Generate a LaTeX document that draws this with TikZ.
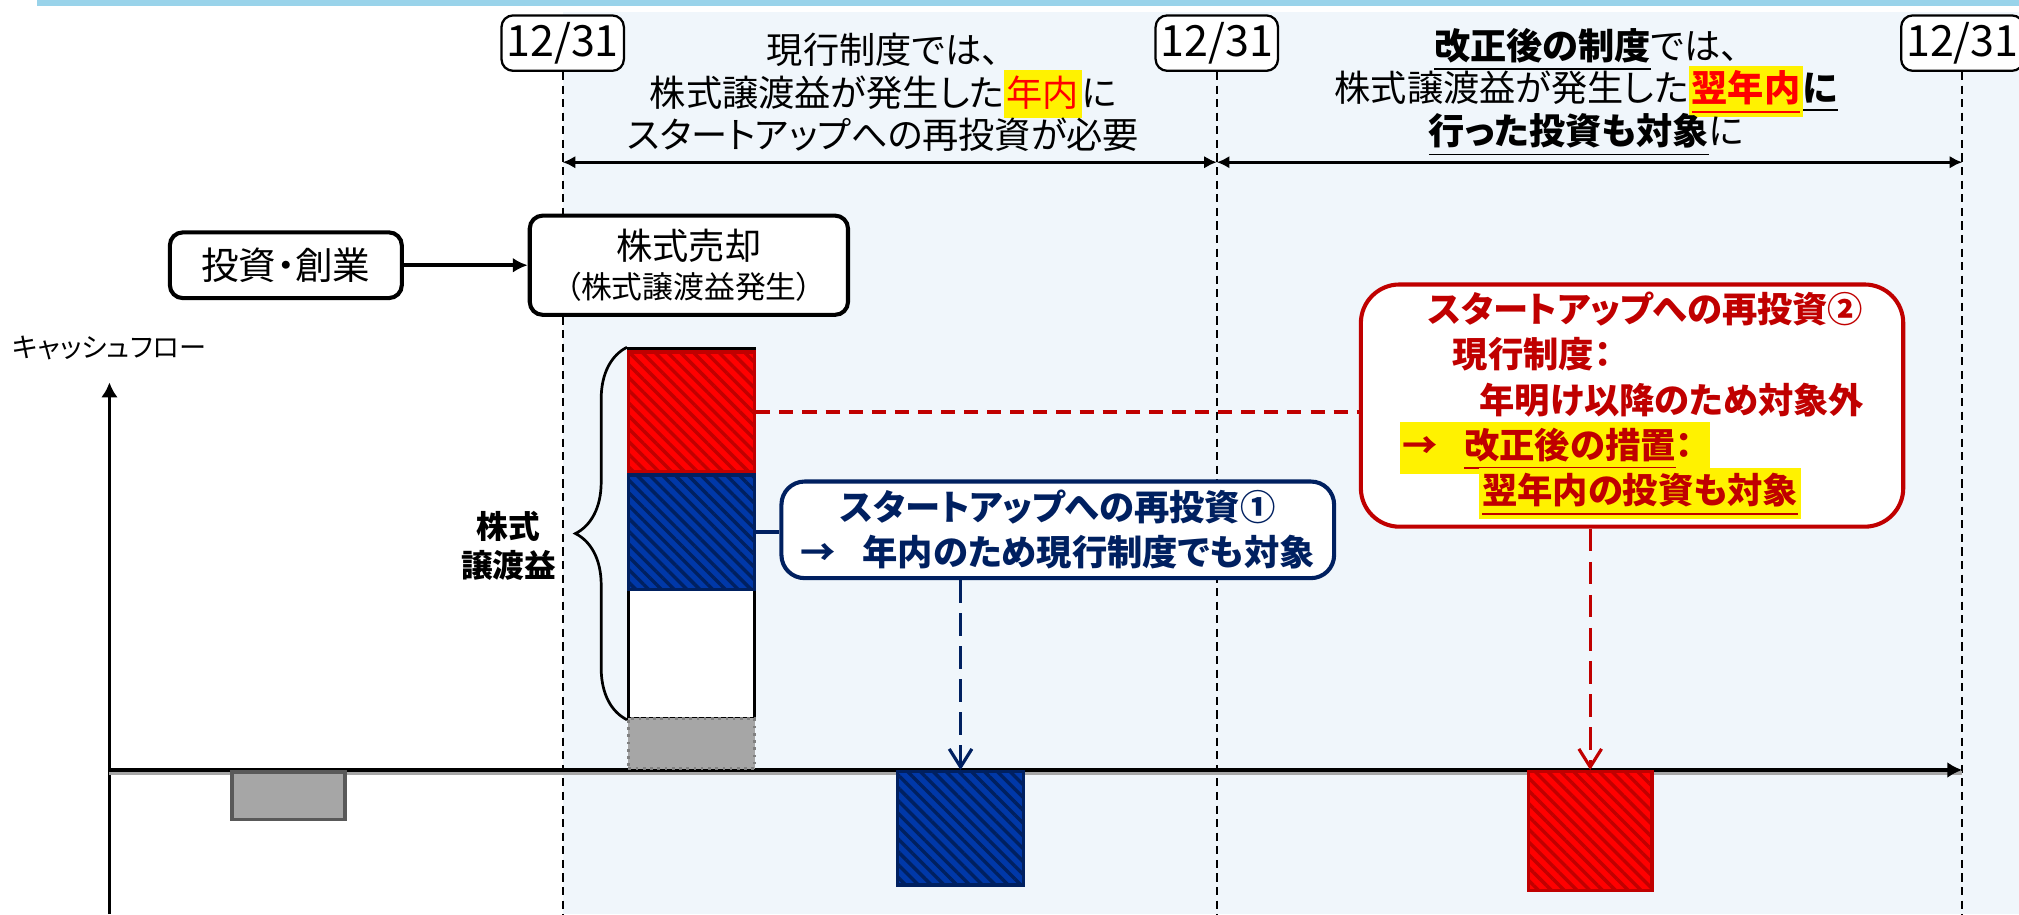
\documentclass[tikz,border=0pt]{standalone}
\usepackage{fontspec}
\setmainfont{Noto Sans CJK JP}[RawFeature=+palt]
\usepackage{tikz}
\usetikzlibrary{arrows.meta}
\usetikzlibrary{patterns.meta}
\usetikzlibrary{decorations.pathreplacing}

\definecolor{navy}{HTML}{002060}
\definecolor{darkred}{HTML}{C00000}
\definecolor{hatchblue}{HTML}{0038A8}
\definecolor{bgblue}{HTML}{F0F6FB}
\definecolor{topbar}{HTML}{99D3EA}
\definecolor{barfill}{HTML}{A6A6A6}
\definecolor{bardark}{HTML}{595959}

\newcommand{\hl}[1]{{\setlength{\fboxsep}{0.6pt}\colorbox{yellow}{\rule[-2pt]{0pt}{9.4pt}#1}}}
\lineskiplimit=-\maxdimen

\begin{document}
\begin{tikzpicture}[x=0.01cm, y=-0.01cm,
	datebox/.style={draw, line width=0.5pt, rounded corners=0.09cm, fill=white, minimum width=0.95cm, minimum height=0.43cm, inner sep=0pt, font=\fontsize{9.5}{11}\selectfont},
	dateline/.style={line width=0.45pt, dash pattern=on 1.8pt off 1.2pt},
	yeararrow/.style={line width=0.7pt, {Latex[length=2.8pt,width=2.8pt]}-{Latex[length=2.8pt,width=2.8pt]}},
	headtext/.style={align=center, inner sep=0pt, font=\fontsize{8}{9.4}\selectfont},
	evtbox/.style={draw, line width=0.9pt, rounded corners=0.1cm, fill=white, inner sep=0pt, align=center},
	bar/.style={inner sep=0pt, minimum width=0.98cm},
	redbar/.style={bar, draw=darkred, line width=0.7pt, preaction={fill=red}, pattern={Lines[angle=-45,distance=2pt,line width=0.75pt]}, pattern color=darkred},
	bluebar/.style={bar, draw=navy, line width=0.7pt, preaction={fill=hatchblue}, pattern={Lines[angle=-45,distance=2pt,line width=0.75pt]}, pattern color=navy},
	graybar/.style={bar, fill=barfill},
	bluenote/.style={draw=navy, line width=0.9pt, rounded corners=0.18cm, fill=white, text=navy, font=\bfseries\fontsize{7.8}{10}\selectfont, align=center, inner sep=0pt, minimum width=4.29cm, minimum height=0.75cm},
	rednote/.style={draw=darkred, line width=0.9pt, rounded corners=0.3cm, fill=white, text=darkred, font=\bfseries\fontsize{7.8}{10}\selectfont, align=left, inner sep=0pt, minimum width=4.21cm, minimum height=1.88cm},
	]
	\useasboundingbox (0,0) rectangle (1568,710);
	\fill[topbar] (29,0) rectangle (1568,5);
	\fill[bgblue] (437,9) rectangle (1568,710);
	
	\coordinate (bottom) at (0,710);
	\coordinate (arrowrow) at (0,126);
	\node[datebox] (date1) at (437,33.5) {12/31};
	\node[datebox] (date2) at (945,33.5) {12/31};
	\node[datebox] (date3) at (1524,33.5) {12/31};
	\draw[dateline] (date1.south) -- (date1.south |- bottom);
	\draw[dateline] (date2.south) -- (date2.south |- bottom);
	\draw[dateline] (date3.south) -- (date3.south |- bottom);
	\draw[yeararrow] (date1 |- arrowrow) -- (date2 |- arrowrow);
	\draw[yeararrow] (date2 |- arrowrow) -- (date3 |- arrowrow);
	
	\node[headtext] (nowrule) at (686,72) {現行制度では、\\株式譲渡益が発生した\hl{\textcolor{red}{年内}}に\\スタートアップへの再投資が必要};
	\node[headtext] (newrule) at (1232,72) {\underline{\textbf{改正後の制度}}では、\\株式譲渡益が発生した\hl{\textcolor{red}{\textbf{\underline{翌年内}}}}\textbf{\underline{に}}\\\underline{\textbf{行った投資も対象}}に};
	
	\node[evtbox, minimum width=1.80cm, minimum height=0.51cm, font=\fontsize{8.3}{10}\selectfont] (invest) at (222,206) {投資・創業};
	\node[evtbox, minimum width=2.47cm, minimum height=0.77cm, font=\fontsize{8}{8.5}\selectfont] (sale) at (535,206) {株式売却\\{\fontsize{6.8}{8.5}\selectfont （株式譲渡益発生）}};
	\draw[line width=0.9pt, -{Latex[length=3.3pt,width=3.3pt]}] (invest) -- (sale);
	
	\node[font=\fontsize{6}{7}\selectfont, inner sep=0pt] (cflabel) at (85,270) {キャッシュフロー};
	\coordinate (origin) at (85,598);
	\coordinate (ytip) at (85,297);
	\coordinate (xtip) at (1524,598);
	\draw[line width=0.8pt, -{Latex[length=3.3pt,width=3.7pt]}] (origin |- bottom) -- (ytip);
	\draw[gray!70, line width=0.9pt] ([yshift=-0.6pt]origin) -- ([yshift=-0.6pt]xtip);
	\draw[line width=0.9pt, -{Latex[length=3.3pt,width=3.5pt]}] (origin) -- (xtip);
	
	\node[bar, draw, line width=0.6pt, fill=white, minimum height=2.87cm, anchor=south] (posall) at (537,559) {};
	\node[graybar, draw=gray, densely dotted, line width=0.6pt, minimum height=0.39cm, anchor=south] (posgray) at (537,598) {};
	\node[redbar, minimum height=0.93cm, anchor=north] (posred) at (537,272) {};
	\node[bluebar, minimum height=0.89cm, anchor=north] (posblue) at (posred.south) {};
	\draw[decorate, decoration={brace, amplitude=0.4cm}, line width=0.6pt] (posall.south west) -- (posall.north west);
	\node[font=\bfseries\fontsize{7}{8.5}\selectfont, align=center, inner sep=0pt] (gainlabel) at (395,424) {株式\\譲渡益};
	
	\node[graybar, draw=bardark, line width=0.8pt, minimum width=0.88cm, minimum height=0.37cm, anchor=north] (neggray) at (224,598) {};
	\node[bluebar, minimum height=0.88cm, anchor=north] (negblue) at (746,598) {};
	\node[redbar, minimum width=0.96cm, minimum height=0.92cm, anchor=north] (negred) at (1235,598) {};
	
	\node[bluenote] (invest1) at (821.5,411.5) {スタートアップへの再投資①\\→\hspace{0.75em}年内のため現行制度でも対象};
	\node[rednote] (invest2) at (1267.5,315) {\hspace*{0.8em}スタートアップへの再投資②\\\hspace*{1.5em}現行制度：\\\hspace*{2.25em}年明け以降のため対象外\\\hl{→\hspace{0.75em}\underline{改正後の措置}：\hspace{0.4em}}\\\hspace*{2.25em}\hl{\underline{翌年内の投資も対象}}};
	
	\draw[darkred, line width=0.9pt, dash pattern=on 3.1pt off 2pt] (posred.east) -- (posred.east -| invest2.west);
	\draw[navy, line width=0.9pt] (posblue.east) -- (posblue.east -| invest1.west);
	\draw[navy, line width=0.7pt, dash pattern=on 5pt off 2.3pt, -{Straight Barb[length=4pt,width=5pt]}] (invest1.south -| negblue.north) -- (negblue.north);
	\draw[darkred, line width=0.7pt, dash pattern=on 5pt off 2.3pt, -{Straight Barb[length=4pt,width=5pt]}] (invest2.south -| negred.north) -- (negred.north);
\end{tikzpicture}
\end{document}
